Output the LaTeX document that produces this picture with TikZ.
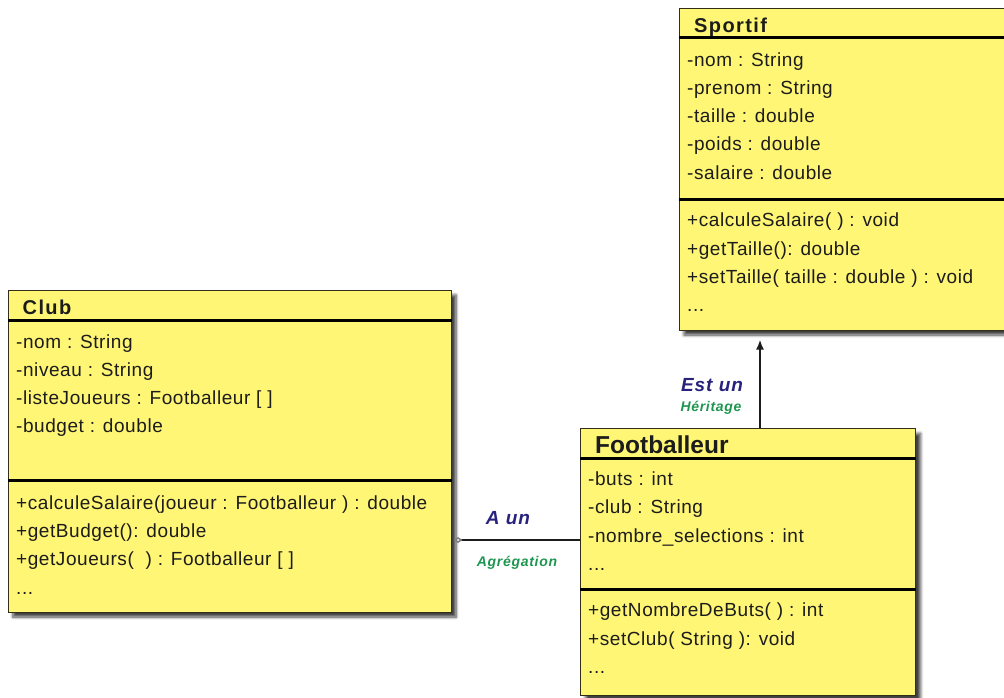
\documentclass[tikz,border=0pt]{standalone}
\usepackage{fontspec}
\setmainfont{Liberation Sans}
\newfontfamily\umlfont[LetterSpace=3]{Liberation Sans}
\newfontfamily\titrefont[LetterSpace=7]{Liberation Sans}
\newfontfamily\lienfont[LetterSpace=5]{Liberation Sans}
\usetikzlibrary{arrows.meta,shadows.blur}
\definecolor{jaune}{RGB}{255,246,117}
\definecolor{bordure}{RGB}{50,46,24}
\definecolor{texte}{RGB}{28,28,28}
\definecolor{bleulien}{RGB}{40,34,125}
\definecolor{vertlien}{RGB}{30,150,80}
\tikzset{
  classe/.style={draw=bordure, line width=1pt, fill=jaune, inner sep=0pt, anchor=north west,
    blur shadow={shadow xshift=5pt, shadow yshift=-5pt, shadow blur radius=3pt, shadow blur steps=6, shadow opacity=75}},
  trait/.style={line width=3pt, black},
  attr/.style={anchor=base west, inner sep=0pt, text=texte, font=\umlfont\fontsize{19}{21}\selectfont},
  titre/.style={anchor=base west, inner sep=0pt, text=texte, font=\titrefont\bfseries\fontsize{20}{22}\selectfont},
  titrefoot/.style={anchor=base west, inner sep=0pt, text=texte, font=\bfseries\fontsize{24.5}{26}\selectfont},
  lien/.style={anchor=base, inner sep=0pt, text=bleulien, font=\lienfont\bfseries\itshape\fontsize{19}{21}\selectfont},
  typelien/.style={anchor=base, inner sep=0pt, text=vertlien, font=\lienfont\bfseries\itshape\fontsize{14}{16}\selectfont},
  agregation/.style={{Diamond[open,length=9pt,width=6pt,gray]}-, shorten <=2pt, line width=1.5pt, texte},
  heritage/.style={-{Latex[length=10pt,width=8pt]}, shorten >=9pt, line width=2.5pt, texte},
}
\begin{document}
\begin{tikzpicture}[x=1pt,y=-1pt]
	\useasboundingbox (0,0) rectangle (1004,697);
	
	% Classe Sportif
	\node[classe, minimum width=335pt, minimum height=322pt] (sportif) at (678.5,7.5) {};
	\draw[trait] (sportif.west |- 0,37.5) -- (sportif.east |- 0,37.5);
	\draw[trait] (sportif.west |- 0,199) -- (sportif.east |- 0,199);
	\node[titre] (sportif-nom) at (694,32) {Sportif};
	\foreach \ligne [count=\i from 0] in {-nom : String, -prenom : String, -taille : double, -poids : double, -salaire : double}
		\node[attr] (sportif-a\i) at (687,66+28.3*\i) {\ligne};
	\foreach \ligne [count=\i from 0] in {+calculeSalaire( ) : void, +getTaille(): double, +setTaille( taille : double ) : void, .{}.{}.}
		\node[attr] (sportif-m\i) at (687,226.7+28.3*\i) {\ligne};
	
	% Classe Club
	\node[classe, minimum width=443pt, minimum height=322pt] (club) at (7.5,289.5) {};
	\draw[trait] (club.west |- 0,320.5) -- (club.east |- 0,320.5);
	\draw[trait] (club.west |- 0,480) -- (club.east |- 0,480);
	\node[titre] (club-nom) at (22.5,314) {Club};
	\foreach \ligne [count=\i from 0] in {-nom : String, -niveau : String, -listeJoueurs : Footballeur [ ], -budget : double}
		\node[attr] (club-a\i) at (16,348+28.3*\i) {\ligne};
	\foreach \ligne [count=\i from 0] in {+calculeSalaire(joueur : Footballeur ) : double, +getBudget(): double, +getJoueurs(\ \ ) : Footballeur [ ], .{}.{}.}
		\node[attr] (club-m\i) at (16,509.3+28.3*\i) {\ligne};
	
	% Classe Footballeur
	\node[classe, minimum width=335pt, minimum height=267pt] (foot) at (580,428) {};
	\draw[trait] (foot.west |- 0,458) -- (foot.east |- 0,458);
	\draw[trait] (foot.west |- 0,589) -- (foot.east |- 0,589);
	\node[titrefoot] (foot-nom) at (595,453) {Footballeur};
	\foreach \ligne [count=\i from 0] in {-buts : int, -club : String, -nombre\_selections : int, .{}.{}.}
		\node[attr] (foot-a\i) at (588,485+28.6*\i) {\ligne};
	\foreach \ligne [count=\i from 0] in {+getNombreDeButs( ) : int, +setClub( String ): void, .{}.{}.}
		\node[attr] (foot-m\i) at (588,616.7+28.3*\i) {\ligne};
	
	% Agregation
	\coordinate (agg) at (500,540);
	\draw[agregation] (club.east |- agg) -- (foot.west |- agg);
	\node[lien] (aun) at (508,524) {A un};
	\node[typelien] (agreg) at (517,566.5) {Agrégation};
	
	% Heritage
	\coordinate (her) at (760,400);
	\draw[heritage] (foot.north -| her) -- (sportif.south -| her);
	\node[lien] (estun) at (712,391) {Est un};
	\node[typelien] (herit) at (711,411.5) {Héritage};
\end{tikzpicture}
\end{document}
